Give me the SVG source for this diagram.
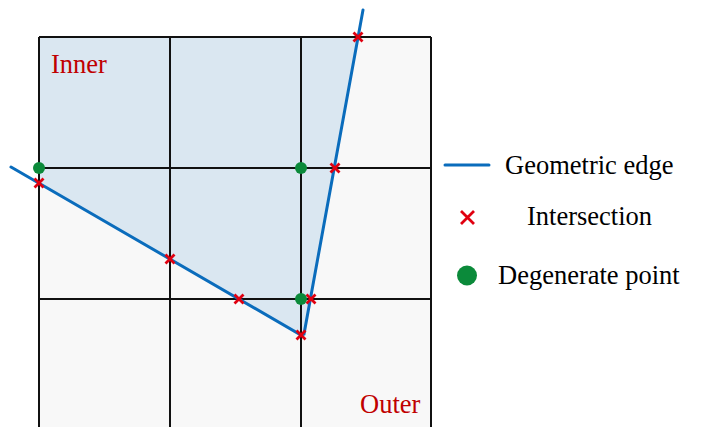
<svg xmlns="http://www.w3.org/2000/svg" width="701" height="427" viewBox="0 0 701 427">
<defs>
<style>
.grid{stroke:#111;stroke-width:2;fill:none}
.edge{stroke:#0a6cbc;stroke-width:3;fill:none;stroke-linecap:round}
.x{stroke:#e00010;stroke-width:2.8;fill:none}
.dot{fill:#0b8a3a}
.lbl{font-family:"Liberation Serif","Times New Roman",serif;font-size:26.5px}
.red{fill:#c00000}
</style>
<g id="mx"><path class="x" d="M-4.5,-4.5L4.5,4.5M-4.5,4.5L4.5,-4.5"/></g>
</defs>
<rect width="701" height="427" fill="#ffffff"/>
<g id="cells">
<rect x="39" y="37" width="392" height="400" fill="#f8f8f8"/>
<polygon points="39,37 358,37 304,334 301,335 39,183" fill="#dae7f1"/>
</g>
<g id="grid">
<path class="grid" d="M39,37V430M170,37V430M301,37V430M431,37V430M39,37H431M39,168H431M39,299H431"/>
</g>
<g id="connectors">
<path class="edge" d="M11,167L301,335L304,334L363,10"/>
</g>
<g id="intersections">
<use href="#mx" x="39" y="183"/>
<use href="#mx" x="170" y="259"/>
<use href="#mx" x="239" y="299"/>
<use href="#mx" x="301" y="335"/>
<use href="#mx" x="311" y="299"/>
<use href="#mx" x="335" y="168"/>
<use href="#mx" x="358" y="37"/>
</g>
<g id="degenerate">
<circle class="dot" cx="39" cy="168" r="6"/>
<circle class="dot" cx="301" cy="168" r="6"/>
<circle class="dot" cx="301" cy="299" r="6"/>
</g>
<g id="labels">
<text class="lbl red" x="51" y="73">Inner</text>
<text class="lbl red" x="360" y="413">Outer</text>
</g>
<g id="legend">
<line class="edge" x1="445" y1="165" x2="489" y2="165" stroke-linecap="butt"/>
<text class="lbl" x="505" y="174">Geometric edge</text>
<path class="x" d="M461,211L474,224M461,224L474,211"/>
<text class="lbl" x="527" y="225">Intersection</text>
<circle class="dot" cx="467" cy="275.5" r="10"/>
<text class="lbl" x="498" y="284">Degenerate point</text>
</g>
</svg>
